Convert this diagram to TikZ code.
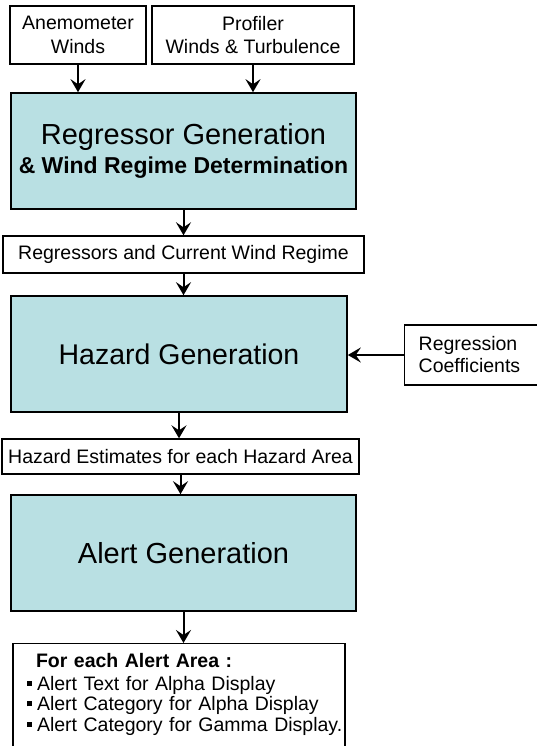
\documentclass[tikz,border=0pt]{standalone}
\usepackage{fontspec}
\setmainfont{Liberation Sans}
\usetikzlibrary{arrows.meta}
\definecolor{genfill}{RGB}{185,224,227}
\newcommand{\sqbul}[1]{\mbox{\hspace*{2pt}\rule[4.5pt]{5pt}{5pt}\hspace{5pt}#1}}

\begin{document}
\begin{tikzpicture}[x=1pt, y=-1pt,
	genbox/.style={draw, line width=1.6pt, fill=genfill, inner sep=0pt, align=center,
		font=\fontsize{29}{29}\selectfont},
	datbox/.style={draw, line width=1.4pt, fill=white, inner sep=0pt, align=center,
		font=\fontsize{19.5}{23.5}\selectfont},
	flow/.style={-{Stealth[length=13pt, width=15pt, inset=5pt]}, line width=2pt}]
	\useasboundingbox (0,0) rectangle (537,746);
	\clip (0,0) rectangle (537,746);

	% inputs
	\node[datbox, minimum width=136pt, minimum height=58pt] (anem) at (78,35) {Anemometer\\Winds};
	\node[datbox, minimum width=202pt, minimum height=58pt] (prof) at (253,35) {Profiler\\Winds \& Turbulence};

	% processing chain
	\node[genbox, minimum width=345pt, minimum height=116pt] (regr) at (183.5,151)
		{Regressor Generation\\{\fontsize{23}{28}\selectfont\bfseries \& Wind Regime Determination}};
	\node[datbox, minimum width=361pt, minimum height=37pt] (regs) at (183.5,254.5) {Regressors and Current Wind Regime};
	\node[genbox, minimum width=336pt, minimum height=116pt, font=\fontsize{28.5}{28.5}\selectfont] (haz) at (179,354) {Hazard Generation};
	\node[datbox, anchor=west, text width=120pt, align=left, inner xsep=14pt,
		minimum height=60pt, font=\fontsize{19.5}{22}\selectfont] (coef) at (404,355) {Regression\\Coefficients};
	\node[datbox, minimum width=357pt, minimum height=35pt] (est) at (180.5,456.5) {Hazard Estimates for each Hazard Area};
	\node[genbox, minimum width=345pt, minimum height=116pt] (alert) at (183.5,553) {Alert Generation};

	% output
	\node[datbox, anchor=north, text width=308pt, align=left, inner xsep=12pt, inner ysep=10pt,
		text depth=100pt, font=\fontsize{19.5}{20.5}\selectfont] (out) at (179,643)
		{\hspace*{11pt}\textbf{For each Alert Area :}\\[2pt]
		\sqbul{Alert Text for Alpha Display}\\
		\sqbul{Alert Category for Alpha Display}\\
		\sqbul{Alert Category for Gamma Display.}};

	% connectors
	\draw[flow] (anem.south) -- (anem.south |- regr.north);
	\draw[flow] (prof.south) -- (prof.south |- regr.north);
	\draw[flow] (regr.south) -- (regr.south |- regs.north);
	\draw[flow] (regs.south) -- (regs.south |- haz.north);
	\draw[flow] (coef.west) -- (coef.west -| haz.east);
	\draw[flow] (haz.south) -- (haz.south |- est.north);
	\draw[flow] (est.south) -- (est.south |- alert.north);
	\draw[flow] (alert.south) -- (alert.south |- out.north);
\end{tikzpicture}
\end{document}
